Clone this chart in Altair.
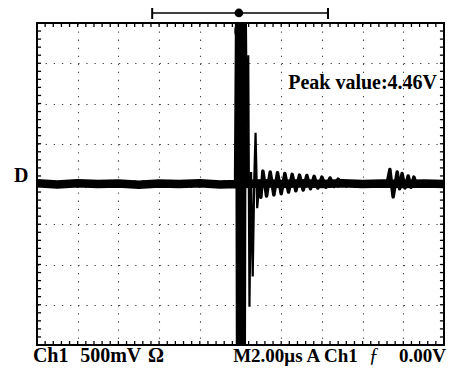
import altair as alt
import pandas as pd

# ---- waveform (time in divisions, amplitude in divisions) ----
main_t = [0.0, 0.5, 1.0, 1.5, 2.0, 2.5, 3.0, 3.5, 4.0, 4.5, 4.94,
          4.97, 4.99, 5.01, 5.03, 5.05, 5.09, 5.6, 6.0, 6.5, 7.0, 7.5, 8.0,
          8.5, 9.0, 9.5, 10.0]
main_v = [0.02, -0.01, 0.02, 0.0, 0.01, -0.02, 0.01, 0.0, 0.02, -0.01, 0.0,
          4.6, -4.6, 4.6, -4.6, 4.6, 0.0, 0.02, 0.0, 0.02, 0.0, 0.02, 0.0,
          0.01, 0.0, 0.01, 0.0]

thin_t = [5.10, 5.19, 5.22, 5.26, 5.30, 5.34, 5.37, 5.41, 5.46]
thin_v = [0.0, 3.2, -3.05, 0.3, -2.3, 0.2, 1.27, -0.6, 0.0]

ring_t = [5.46, 5.50, 5.55, 5.64, 5.73, 5.82, 5.91, 6.00, 6.09, 6.18, 6.27,
          6.36, 6.45, 6.54, 6.63, 6.72, 6.81, 6.90, 7.00, 7.10, 7.20, 7.30,
          7.40, 7.50, 8.60, 8.67, 8.75, 8.85, 8.91, 8.97, 9.04, 9.12, 9.19,
          9.26, 9.33, 9.40]
ring_v = [0.0, -0.33, 0.32, -0.30, 0.30, -0.27, 0.28, -0.24, 0.26, -0.20, 0.24,
          -0.17, 0.22, -0.15, 0.21, -0.12, 0.19, -0.10, 0.17, -0.08, 0.15, -0.06,
          0.12, 0.0, 0.0, 0.36, -0.32, 0.30, -0.12, 0.26, -0.10, 0.20, -0.08,
          0.17, -0.05, 0.0]

grid_x = [1, 2, 3, 4, 5, 6, 7, 8, 9]
grid_y = [-3, -2, -1, 0, 1, 2, 3]
minor_x = [round(i * 0.2, 1) for i in range(1, 50)]
minor_y = [round(-4 + i * 0.2, 1) for i in range(1, 40)]

main_df = pd.DataFrame({"t": main_t, "v": main_v})
thin_df = pd.DataFrame({"t": thin_t, "v": thin_v})
ring_df = pd.DataFrame({"t": ring_t, "v": ring_v})

W, H = 407, 322
xs = alt.Scale(domain=[0, 10], nice=False, zero=False)
ys = alt.Scale(domain=[-4, 4], nice=False, zero=False)

X = alt.X("t:Q", scale=xs, axis=alt.Axis(values=grid_x, grid=True, gridColor="#444",
          gridDash=[1.3, 6.75], gridWidth=1.1, labels=False, ticks=False, domain=False, title=None))
Y = alt.Y("v:Q", scale=ys, axis=alt.Axis(values=grid_y, grid=True, gridColor="#444",
          gridDash=[1.3, 6.84], gridWidth=1.1, labels=False, ticks=False, domain=False, title=None))

base = alt.Chart(main_df).mark_line(color="black", strokeWidth=8.5, strokeJoin="round",
                                    clip=True).encode(x=X, y=Y, order="t:Q")
thin = alt.Chart(thin_df).mark_line(color="black", strokeWidth=2.2, clip=True).encode(
    x=alt.X("t:Q", scale=xs), y=alt.Y("v:Q", scale=ys), order="t:Q")
ring = alt.Chart(ring_df).mark_line(color="black", strokeWidth=3.5, strokeJoin="round",
                                    clip=True).encode(
    x=alt.X("t:Q", scale=xs), y=alt.Y("v:Q", scale=ys), order="t:Q")


def tick_layer(df, x, x2, y, y2, w=1.3):
    return alt.Chart(df).mark_rule(color="black", strokeWidth=w).encode(
        x=x, x2=x2, y=y, y2=y2)


mx = pd.DataFrame({"p": minor_x})
my = pd.DataFrame({"p": minor_y})
px = alt.X("p:Q", scale=xs)
py = alt.Y("p:Q", scale=ys)
ticks = [
    tick_layer(mx, px, alt.X2("p:Q"), alt.Y(datum=4.0, scale=ys), alt.Y2(datum=3.9)),
    tick_layer(mx, px, alt.X2("p:Q"), alt.Y(datum=-4.0, scale=ys), alt.Y2(datum=-3.9)),
    tick_layer(mx, px, alt.X2("p:Q"), alt.Y(datum=-0.1, scale=ys), alt.Y2(datum=0.1)),
    tick_layer(my, alt.X(datum=0.0, scale=xs), alt.X2(datum=0.1), py, alt.Y2("p:Q")),
    tick_layer(my, alt.X(datum=10.0, scale=xs), alt.X2(datum=9.9), py, alt.Y2("p:Q")),
    tick_layer(my, alt.X(datum=4.9, scale=xs), alt.X2(datum=5.1), py, alt.Y2("p:Q")),
]

one = pd.DataFrame({"a": [0]})
bracket = alt.Chart(one).mark_rule(color="black", strokeWidth=1.6, clip=False).encode(
    x=alt.X(datum=2.83, scale=xs), x2=alt.X2(datum=7.15), y=alt.Y(datum=4.25, scale=ys))
caps = alt.Chart(pd.DataFrame({"c": [2.83, 7.15]})).mark_rule(
    color="black", strokeWidth=2, clip=False).encode(
    x=alt.X("c:Q", scale=xs), y=alt.Y(datum=4.10, scale=ys), y2=alt.Y2(datum=4.42))
dot = alt.Chart(one).mark_point(filled=True, color="black", size=75, opacity=1, clip=False).encode(
    x=alt.X(datum=4.96, scale=xs), y=alt.Y(datum=4.25, scale=ys))
trig = alt.Chart(one).mark_rule(color="black", strokeWidth=9, strokeCap="round", clip=False).encode(
    x=alt.X(datum=4.96, scale=xs), y=alt.Y(datum=3.84, scale=ys), y2=alt.Y2(datum=3.76))

FONT = "Liberation Serif"


def label(text, x, y, size=20, weight="bold", style="normal", align="left"):
    return alt.Chart(one).mark_text(text=text, font=FONT, fontSize=size, fontWeight=weight,
                                    fontStyle=style, align=align, baseline="alphabetic",
                                    color="black", clip=False).encode(
        x=alt.X(datum=x, scale=xs), y=alt.Y(datum=y, scale=ys))


BY = -4.42
texts = [
    label("Peak value:4.46V", 9.83, 2.36, align="right"),
    label("D", -0.39, 0.05, align="center"),
    label("Ch1", -0.1, BY),
    label("500mV", 1.06, BY),
    label("Ω", 2.73, BY),
    label("M2.00μs", 4.82, BY, size=19),
    label("A", 6.62, BY, size=19),
    label("Ch1", 7.05, BY, size=19),
    label("ƒ", 8.15, BY, weight="normal", style="italic"),
    label("0.00V", 10.05, BY, size=19, align="right"),
]

chart = alt.layer(base, ring, thin, *ticks, bracket, caps, dot, trig, *texts).properties(
    width=W, height=H,
    padding={"left": 29, "top": 15, "right": 3, "bottom": 22},
    autosize=alt.AutoSizeParams(type="none"),
    background="white",
).configure_view(stroke="black", strokeWidth=2)

chart.save("out.html", embed_options={"renderer": "svg", "actions": False})
